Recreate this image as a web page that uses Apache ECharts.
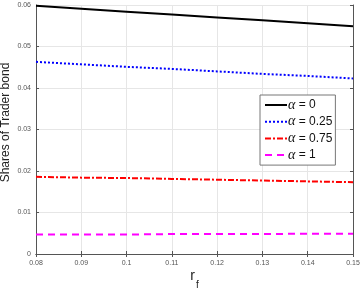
<!DOCTYPE html>
<html><head><meta charset="utf-8">
<script src="https://cdn.jsdelivr.net/npm/echarts@6/dist/echarts.min.js"></script>
<style>html,body{margin:0;padding:0;background:#fff}#c{width:360px;height:289px}</style>
</head><body><div id="c"></div>
<script>
const rf = [0.08, 0.09, 0.10, 0.11, 0.12, 0.13, 0.14, 0.15];
const alpha0 = [0.0598, 0.0591, 0.0584, 0.0577, 0.0570, 0.0563, 0.0556, 0.0549];
const alpha025 = [0.0463, 0.0457, 0.0451, 0.0446, 0.0440, 0.0434, 0.0429, 0.0423];
const alpha075 = [0.0186, 0.0184, 0.0183, 0.0181, 0.0179, 0.0177, 0.0175, 0.0173];
const alpha1 = [0.0047, 0.0047, 0.0047, 0.0048, 0.0048, 0.0048, 0.0049, 0.0049];
const seriesNames = ['α = 0', 'α = 0.25', 'α = 0.75', 'α = 1'];
const xTicks = [0.08, 0.15, 0.01];
const yTicks = [0, 0.06, 0.01];

const chart = echarts.init(document.getElementById('c'));
const pair = arr => rf.map((x, i) => [x, arr[i]]);
const axisLine = {show: true, lineStyle: {color: '#555', width: 1}};
const axisTick = {show: true, inside: true, length: 3, lineStyle: {color: '#555'}};
const splitLine = {show: true, lineStyle: {color: '#e6e6e6', width: 1}};
const lbl = {color: '#555', fontSize: 7, fontFamily: 'Liberation Sans'};
chart.setOption({
  animation: false,
  grid: {left: 36, right: 7, top: 5, bottom: 35, outerBoundsMode: 'none', containLabel: false},
  xAxis: [
    {type: 'value', min: xTicks[0], max: xTicks[1], interval: xTicks[2], position: 'bottom',
      name: '{r|r}{s|f}', nameLocation: 'middle', nameGap: 8, nameMoveOverlap: false,
      nameTextStyle: {padding: [0, 0, 0, 0], rich: {r: {fontSize: 14, fontFamily: 'Liberation Sans', color: '#222'}, s: {fontSize: 10, fontFamily: 'Liberation Sans', color: '#222', verticalAlign: 'bottom', padding: [18,0,0,1]}}},
      axisLabel: Object.assign({margin: 6}, lbl), axisLine, axisTick, splitLine},
    {type: 'value', min: xTicks[0], max: xTicks[1], interval: xTicks[2], position: 'top',
      axisLine, axisTick, axisLabel: {show: false}, splitLine: {show: false}}
  ],
  yAxis: [
    {type: 'value', min: yTicks[0], max: yTicks[1], interval: yTicks[2], position: 'left',
      name: 'Shares of Trader bond', nameLocation: 'middle', nameGap: 24, nameMoveOverlap: false,
      nameTextStyle: {fontSize: 12, fontFamily: 'Liberation Sans', color: '#222', padding: [0, 0, 0, 14]},
      axisLabel: Object.assign({margin: 5}, lbl), axisLine, axisTick, splitLine},
    {type: 'value', min: yTicks[0], max: yTicks[1], interval: yTicks[2], position: 'right',
      axisLine, axisTick, axisLabel: {show: false}, splitLine: {show: false}}
  ],
  legend: {
    orient: 'vertical', left: 260, top: 95,
    backgroundColor: '#fff', borderColor: '#777', borderWidth: 1, borderRadius: 0,
    padding: [3, 3, 3, 4], itemGap: 2.7, itemWidth: 22, itemHeight: 14,
    itemStyle: {opacity: 0},
    textStyle: {fontSize: 12, fontFamily: 'Liberation Sans', color: '#111', padding: [0, 0, 0, -4],
      rich: {a: {fontFamily: 'Liberation Serif', fontStyle: 'italic', fontSize: 14, color: '#111'}}},
    formatter: n => '{a|α}' + n.slice(1),
    data: seriesNames
  },
  series: [
    {name: seriesNames[0], type: 'line', data: pair(alpha0), showSymbol: false, symbol: 'none',
      lineStyle: {color: '#000', width: 2, type: 'solid'}, itemStyle: {color: '#000'}},
    {name: seriesNames[1], type: 'line', data: pair(alpha025), showSymbol: false, symbol: 'none',
      lineStyle: {color: '#0000ff', width: 2, type: [2, 2]}, itemStyle: {color: '#0000ff'}},
    {name: seriesNames[2], type: 'line', data: pair(alpha075), showSymbol: false, symbol: 'none',
      lineStyle: {color: '#ff0000', width: 2, type: [6, 2, 2, 2]}, itemStyle: {color: '#ff0000'}},
    {name: seriesNames[3], type: 'line', data: pair(alpha1), showSymbol: false, symbol: 'none',
      lineStyle: {color: '#ff00ff', width: 2, type: [7, 5]}, itemStyle: {color: '#ff00ff'}}
  ]
});
</script></body></html>
